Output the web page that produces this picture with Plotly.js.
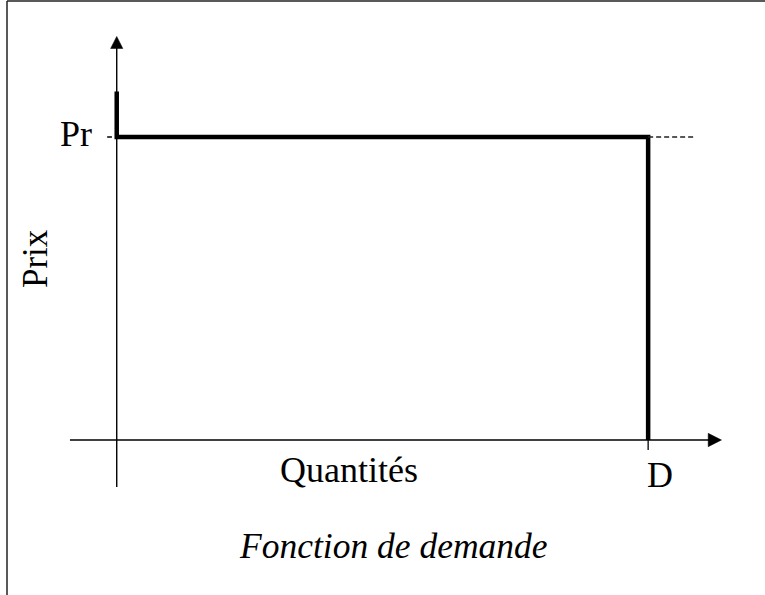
<!DOCTYPE html>
<html>
<head>
<meta charset="utf-8">
<script src="https://cdn.plot.ly/plotly-3.0.1.min.js"></script>
<style>
  html, body { margin: 0; padding: 0; background: #fff; }
  #chart { width: 765px; height: 595px; }
</style>
</head>
<body>
<div id="chart"></div>
<script>
// demand function: price Pr up to quantity D, then drops to zero
var quantities = [0, 0, 100, 100];
var prices = [115, 100, 100, 0];

var xTickVals = [100];
var xTickText = ['D'];
var yTickVals = [100];
var yTickText = ['Pr'];

var xTitle = 'Quantités';
var yTitle = 'Prix';
var chartTitle = 'Fonction de demande';

// drawing extents (data units)
var xAxisFrom = -8.8, xAxisTo = 111.6;
var yAxisFrom = -15.5, yAxisTo = 129.6;
var xArrowTip = 113.8, yArrowTip = 133.2;
var guideLen = 9;

var serif = '"Liberation Serif", "Times New Roman", serif';

var data = [
  {
    type: 'scatter',
    mode: 'lines',
    x: quantities,
    y: prices,
    line: {color: '#000', width: 4.5},
    hoverinfo: 'skip'
  }
];

function arrowUp(x, tip, base, halfW) {
  return 'M' + (x - halfW) + ',' + base + ' L' + (x + halfW) + ',' + base + ' L' + x + ',' + tip + ' Z';
}
function arrowRight(y, tip, base, halfH) {
  return 'M' + base + ',' + (y - halfH) + ' L' + base + ',' + (y + halfH) + ' L' + tip + ',' + y + ' Z';
}

var shapes = [
  // axes
  {type: 'line', xref: 'x', yref: 'y', x0: xAxisFrom, x1: xAxisTo, y0: 0, y1: 0, line: {color: '#000', width: 1.4}},
  {type: 'line', xref: 'x', yref: 'y', x0: 0, x1: 0, y0: yAxisFrom, y1: yAxisTo, line: {color: '#000', width: 1.4}},
  // arrow heads
  {type: 'path', xref: 'x', yref: 'y', path: arrowUp(0, yArrowTip, 129.2, 1.15), fillcolor: '#000', line: {color: '#000', width: 0.5}},
  {type: 'path', xref: 'x', yref: 'y', path: arrowRight(0, xArrowTip, 111.3, 2.2), fillcolor: '#000', line: {color: '#000', width: 0.5}},
  // tick under D
  {type: 'line', xref: 'x', yref: 'y', x0: xTickVals[0], x1: xTickVals[0], y0: 0, y1: -3.3, line: {color: '#000', width: 1.3}},
  // small mark left of the y axis at Pr
  {type: 'line', xref: 'x', yref: 'y', x0: -1.8, x1: -0.9, y0: yTickVals[0], y1: yTickVals[0], line: {color: '#000', width: 1.5}},
  // dashed guide at Pr
  {type: 'line', xref: 'x', yref: 'y', x0: xTickVals[0], x1: xTickVals[0] + guideLen, y0: yTickVals[0], y1: yTickVals[0],
   line: {color: '#222', width: 1.4, dash: '5px,3px'}},
  // frame
  {type: 'line', xref: 'paper', yref: 'paper', x0: 7 / 765, x1: 1, y0: 1 - 1 / 595, y1: 1 - 1 / 595, line: {color: '#222', width: 1.5}},
  {type: 'line', xref: 'paper', yref: 'paper', x0: 7 / 765, x1: 7 / 765, y0: 0, y1: 1 - 1 / 595, line: {color: '#222', width: 1.5}}
];

var annotations = [
  {xref: 'x', yref: 'y', x: -4.2, y: yTickVals[0], text: yTickText[0], showarrow: false,
   xanchor: 'right', yanchor: 'middle', yshift: 3, font: {family: serif, size: 36, color: '#000'}},
  {xref: 'x', yref: 'y', x: xTickVals[0] - 0.6, y: -11.5, text: xTickText[0], showarrow: false,
   xanchor: 'left', yanchor: 'middle', font: {family: serif, size: 36, color: '#000'}},
  {xref: 'paper', yref: 'paper', x: 348.5 / 765, y: 1 - 470 / 595, text: xTitle, showarrow: false,
   xanchor: 'center', yanchor: 'middle', font: {family: serif, size: 36, color: '#000'}},
  {xref: 'paper', yref: 'paper', x: 35 / 765, y: 1 - 259 / 595, text: yTitle, showarrow: false, textangle: -90,
   xanchor: 'center', yanchor: 'middle', font: {family: serif, size: 35, color: '#000'}},
  {xref: 'paper', yref: 'paper', x: 393.5 / 765, y: 1 - 546 / 595, text: '<i>' + chartTitle + '</i>', showarrow: false,
   xanchor: 'center', yanchor: 'middle', font: {family: serif, size: 35.5, color: '#000'}}
];

var layout = {
  width: 765,
  height: 595,
  margin: {l: 0, r: 0, t: 0, b: 0},
  paper_bgcolor: '#fff',
  plot_bgcolor: '#fff',
  showlegend: false,
  xaxis: {range: [-21.965, 121.99], visible: false, fixedrange: true},
  yaxis: {range: [-51.155, 145.215], visible: false, fixedrange: true},
  shapes: shapes,
  annotations: annotations
};

Plotly.newPlot('chart', data, layout, {displayModeBar: false, staticPlot: true});
</script>
</body>
</html>
